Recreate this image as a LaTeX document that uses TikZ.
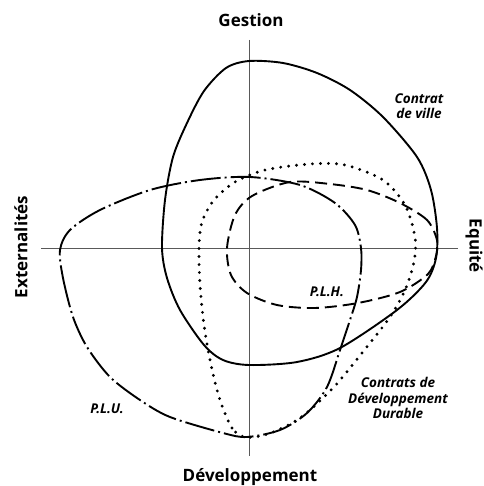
\documentclass[tikz,border=0pt]{standalone}
\usepackage{fontspec}
\setmainfont{Open Sans}
\begin{document}
\begin{tikzpicture}[x=1pt,y=-1pt,
  axis/.style={line width=0.8pt, black!65},
  curve/.style={line width=1.9pt, line join=round},
  plu/.style={curve, dash pattern=on 30pt off 4pt on 2pt off 4pt},
  cdd/.style={line width=3.2pt, line cap=round, dash pattern=on 0pt off 8pt},
  plh/.style={curve, dash pattern=on 12pt off 6pt},
  axlabel/.style={font=\bfseries\fontsize{17}{20}\selectfont, inner sep=0pt},
  curvelabel/.style={font=\bfseries\itshape\fontsize{13.5}{15.5}\selectfont, align=center, inner sep=0pt}]
\useasboundingbox (0,0) rectangle (483,486);
% axes
\coordinate (top) at (249,40);
\coordinate (bot) at (249,456);
\coordinate (lft) at (41,248);
\coordinate (rgt) at (458,248);
\draw[axis] (top) -- (bot);
\draw[axis] (lft) -- (rgt);
% Contrat de ville
\draw[curve] plot[smooth cycle, tension=0.5] coordinates {
  (249,61) (283,63) (317,73) (350,90) (383,117) (417,157) (431,190) (437,228)
  (436,258) (426,282) (397,310) (340,348) (297,362) (249,365) (223,360) (204,345)
  (180,310) (167,278) (162,248) (165,200) (173,157) (187,123) (204,91) (226,68)};
% P.L.U.
\draw[plu] plot[smooth cycle, tension=0.5] coordinates {
  (60,250) (63,278) (73,317) (87,347) (110,377) (140,400) (170,417) (223,433)
  (247,437) (280,430) (307,413) (327,387) (340,350) (350,320) (357,297) (361,270)
  (361,248) (355,225) (335,203) (300,185) (250,177) (200,180) (150,190) (100,210) (70,230)};
% Contrats de Developpement Durable
\draw[cdd] plot[smooth cycle, tension=0.5] coordinates {
  (245,437) (232,428) (220,400) (211,365) (204,325) (200,285) (199,248)
  (202,222) (214,200) (235,182) (265,170) (310,164) (345,165) (383,180) (405,205)
  (415,237) (414,262) (405,290) (390,317) (362,353) (333,388) (300,418) (268,434)};
% P.L.H.
\draw[plh] plot[smooth cycle, tension=0.5] coordinates {
  (437,240) (427,220) (400,203) (367,190) (330,184) (290,182) (252,196) (235,215)
  (227,248) (231,275) (247,293) (277,305) (315,308) (358,303) (400,292) (428,274) (436,256)};
% labels
\node[axlabel] (g) at (251,20) {Gestion};
\node[axlabel] (d) at (250,477) {Développement};
\node[axlabel, rotate=90] (e) at (21,247) {Externalités};
\node[axlabel, rotate=-90] (q) at (474,246) {Equité};
\node[curvelabel] (cv) at (419,106) {Contrat\\de ville};
\node[curvelabel] (plhl) at (327,292) {P.L.H.};
\node[curvelabel] (plul) at (107,409) {P.L.U.};
\node[curvelabel] (cddl) at (398,398) {Contrats de\\Développement\\Durable};
\end{tikzpicture}
\end{document}
